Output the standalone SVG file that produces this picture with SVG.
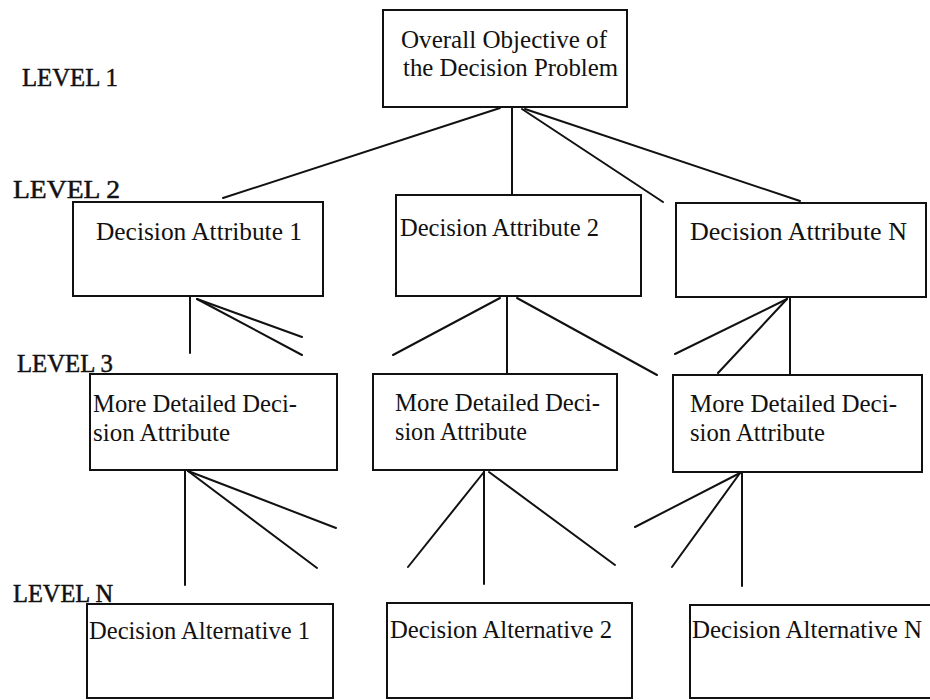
<svg xmlns="http://www.w3.org/2000/svg" width="930" height="700" viewBox="0 0 930 700">
<style>
.box{fill:#fff;stroke:#111;stroke-width:2}
.t{font-family:"Liberation Serif","Times New Roman",serif;font-size:25px;fill:#111}
.lv{font-family:"Liberation Serif","Times New Roman",serif;font-size:26px;fill:#111;stroke:#111;stroke-width:0.5}
.c line{stroke:#111;stroke-width:2;stroke-linecap:round}
</style>
<rect width="930" height="700" fill="#fff"/>
<g id="labels">
<text class="lv" x="22" y="86" textLength="96" lengthAdjust="spacingAndGlyphs">LEVEL 1</text>
<text class="lv" x="13" y="198" textLength="107" lengthAdjust="spacingAndGlyphs">LEVEL 2</text>
<text class="lv" x="17" y="372" textLength="96" lengthAdjust="spacingAndGlyphs">LEVEL 3</text>
<text class="lv" x="13" y="602" textLength="100" lengthAdjust="spacingAndGlyphs">LEVEL N</text>
</g>
<g id="connectors" class="c">
<line x1="500" y1="108" x2="223" y2="198"/>
<line x1="512" y1="108" x2="512" y2="195"/>
<line x1="522" y1="109" x2="663" y2="202"/>
<line x1="525" y1="109" x2="800" y2="201"/>
<line x1="190" y1="297" x2="190" y2="353"/>
<line x1="197" y1="299" x2="302" y2="337"/>
<line x1="197" y1="299" x2="302" y2="355"/>
<line x1="500" y1="298" x2="393" y2="355"/>
<line x1="507" y1="297" x2="507" y2="374"/>
<line x1="517" y1="298" x2="657" y2="375"/>
<line x1="787" y1="299" x2="675" y2="354"/>
<line x1="787" y1="299" x2="718" y2="373"/>
<line x1="790" y1="298" x2="790" y2="375"/>
<line x1="185" y1="471" x2="185" y2="585"/>
<line x1="188" y1="471" x2="336" y2="528"/>
<line x1="188" y1="471" x2="317" y2="568"/>
<line x1="484" y1="472" x2="408" y2="567"/>
<line x1="484" y1="471" x2="484" y2="584"/>
<line x1="489" y1="472" x2="615" y2="565"/>
<line x1="740" y1="473" x2="635" y2="527"/>
<line x1="740" y1="473" x2="672" y2="567"/>
<line x1="742" y1="473" x2="742" y2="586"/>
</g>
<g id="n1">
<rect class="box" x="383" y="10" width="244" height="97"/>
<text class="t" x="401" y="48" textLength="206" lengthAdjust="spacingAndGlyphs">Overall Objective of</text>
<text class="t" x="403" y="76" textLength="215" lengthAdjust="spacingAndGlyphs">the Decision Problem</text>
</g>
<g id="n2a">
<rect class="box" x="73" y="202" width="250" height="94"/>
<text class="t" x="96" y="240" textLength="206" lengthAdjust="spacingAndGlyphs">Decision Attribute 1</text>
</g>
<g id="n2b">
<rect class="box" x="396" y="195" width="245" height="101"/>
<text class="t" x="400" y="236" textLength="199" lengthAdjust="spacingAndGlyphs">Decision Attribute 2</text>
</g>
<g id="n2n">
<rect class="box" x="676" y="203" width="250" height="94"/>
<text class="t" x="690" y="240" textLength="217" lengthAdjust="spacingAndGlyphs">Decision Attribute N</text>
</g>
<g id="n3a">
<rect class="box" x="90" y="374" width="247" height="96"/>
<text class="t" x="93" y="412" textLength="204" lengthAdjust="spacingAndGlyphs">More Detailed Deci-</text>
<text class="t" x="93" y="441" textLength="137" lengthAdjust="spacingAndGlyphs">sion Attribute</text>
</g>
<g id="n3b">
<rect class="box" x="373" y="374" width="244" height="96"/>
<text class="t" x="395" y="411" textLength="205" lengthAdjust="spacingAndGlyphs">More Detailed Deci-</text>
<text class="t" x="395" y="440" textLength="132" lengthAdjust="spacingAndGlyphs">sion Attribute</text>
</g>
<g id="n3n">
<rect class="box" x="673" y="375" width="249" height="97"/>
<text class="t" x="690" y="412" textLength="207" lengthAdjust="spacingAndGlyphs">More Detailed Deci-</text>
<text class="t" x="690" y="441" textLength="135" lengthAdjust="spacingAndGlyphs">sion Attribute</text>
</g>
<g id="nNa">
<rect class="box" x="87" y="604" width="246" height="94"/>
<text class="t" x="89" y="639" textLength="221" lengthAdjust="spacingAndGlyphs">Decision Alternative 1</text>
</g>
<g id="nNb">
<rect class="box" x="387" y="603" width="245" height="95"/>
<text class="t" x="390" y="638" textLength="222" lengthAdjust="spacingAndGlyphs">Decision Alternative 2</text>
</g>
<g id="nNn">
<rect class="box" x="690" y="605" width="245" height="93"/>
<text class="t" x="692" y="638" textLength="230" lengthAdjust="spacingAndGlyphs">Decision Alternative N</text>
</g>
</svg>
